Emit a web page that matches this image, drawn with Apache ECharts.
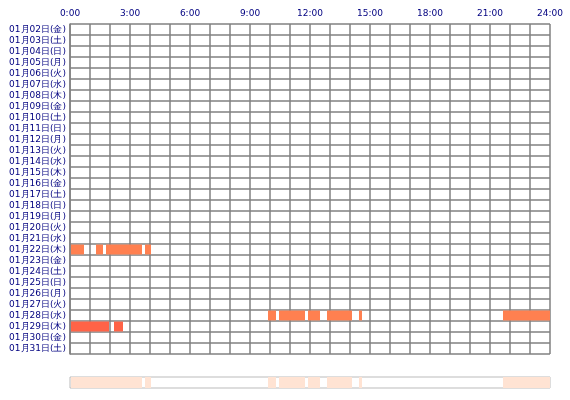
<!DOCTYPE html>
<html><head><meta charset="utf-8">
<script src="https://cdn.jsdelivr.net/npm/echarts@6/dist/echarts.min.js"></script>
<style>html,body{margin:0;background:#fff}#c{width:570px;height:400px}</style>
</head><body><div id="c"></div>
<script>
// 日付ラベル
const days = ['01月02日(金)','01月03日(土)','01月04日(日)','01月05日(月)','01月06日(火)','01月07日(水)','01月08日(木)','01月09日(金)','01月10日(土)','01月11日(日)','01月12日(月)','01月13日(火)','01月14日(水)','01月15日(木)','01月16日(金)','01月17日(土)','01月18日(日)','01月19日(月)','01月20日(火)','01月21日(水)','01月22日(木)','01月23日(金)','01月24日(土)','01月25日(日)','01月26日(月)','01月27日(火)','01月28日(水)','01月29日(木)','01月30日(金)','01月31日(土)'];
// [start hour, end hour]
const jan22 = [[0.05, 0.7], [1.3, 1.65], [1.8, 3.6], [3.75, 4.05]];
const jan28 = [[9.9, 10.3], [10.45, 11.75], [11.9, 12.5], [12.85, 14.1], [14.45, 14.6], [21.65, 24]];
const jan29 = [[0.05, 1.95], [2.2, 2.65]];

const segs = [];
jan22.forEach(s => segs.push(['01月22日(木)', s[0], s[1], '#ff8050']));
jan28.forEach(s => segs.push(['01月28日(水)', s[0], s[1], '#ff8050']));
jan29.forEach(s => segs.push(['01月29日(木)', s[0], s[1], '#ff6347']));

const font = '"DejaVu Sans", sans-serif';
const chart = echarts.init(document.getElementById('c'));

const renderBar = (params, api) => {
    const y = api.value(0);
    const p0 = api.coord([api.value(1), y]);
    const p1 = api.coord([api.value(2), y]);
    const h = api.size([0, 1])[1] * 0.9;
    return { type: 'rect', shape: { x: p0[0], y: p0[1] - h / 2, width: p1[0] - p0[0], height: h },
        style: { fill: api.value(3) } };
};
const renderStrip = (params, api) => {
    const p0 = api.coord([api.value(1), 0]);
    const p1 = api.coord([api.value(2), 0]);
    const cs = params.coordSys;
    return { type: 'rect', shape: { x: p0[0], y: cs.y, width: p1[0] - p0[0], height: cs.height },
        style: { fill: '#ffe3d3' } };
};

chart.setOption({
    animation: false,
    grid: [
        { left: 70, right: 20, top: 24, height: 330, show: false },
        { left: 70, right: 20, top: 377, height: 11, show: true, borderColor: '#bbb', borderWidth: 1 }
    ],
    xAxis: [
        { gridIndex: 0, type: 'value', position: 'top', min: 0, max: 24, interval: 1,
          axisLine: { show: false }, axisTick: { show: false },
          axisLabel: { color: '#000080', fontSize: 9, fontFamily: font, margin: 6,
              formatter: v => v % 3 === 0 ? v + ':00' : '' },
          splitLine: { show: true, lineStyle: { color: '#808080', width: 1.5 } } },
        { gridIndex: 1, type: 'value', min: 0, max: 24, show: true, position: 'top',
          axisLine: { show: false }, axisTick: { show: false }, splitLine: { show: false },
          axisLabel: { show: false } }
    ],
    yAxis: [
        { gridIndex: 0, type: 'category', data: days, inverse: true,
          axisLine: { show: true, lineStyle: { color: '#808080', width: 1.5 } }, axisTick: { show: false },
          axisLabel: { color: '#000080', fontSize: 9, fontFamily: font, margin: 4, interval: 0 },
          splitLine: { show: true, interval: 0, lineStyle: { color: '#808080', width: 1.5 } } },
        { gridIndex: 1, type: 'value', min: 0, max: 1, show: false }
    ],
    series: [
        { type: 'custom', xAxisIndex: 0, yAxisIndex: 0, renderItem: renderBar,
          encode: { x: [1, 2], y: 0 }, data: segs, z: 1 },
        { type: 'custom', xAxisIndex: 1, yAxisIndex: 1, renderItem: renderStrip,
          encode: { x: [1, 2] }, data: segs }
    ]
});
</script></body></html>
